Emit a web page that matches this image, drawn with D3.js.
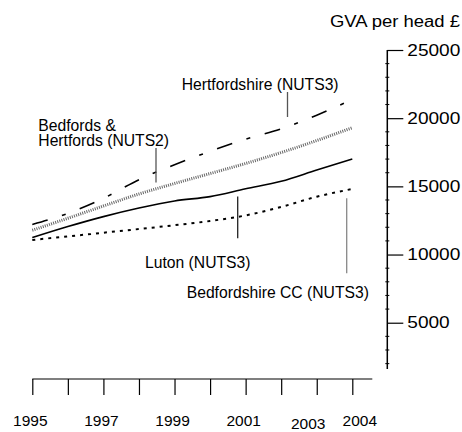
<!DOCTYPE html>
<html>
<head>
<meta charset="utf-8">
<script src="https://cdn.jsdelivr.net/npm/d3@7/dist/d3.min.js"></script>
<style>
  body { margin: 0; background: #fff; }
  text { font-family: "Liberation Sans", Arial, sans-serif; fill: #000; }
</style>
</head>
<body>
<div id="chart"></div>
<script>
// GVA per head, Bedfordshire & Hertfordshire
const years = [1995, 1996, 1997, 1998, 1999, 2000, 2001, 2002, 2003, 2004];
const yearLabels = [1995, 1997, 1999, 2001, 2003, 2004];
const hertfordshire = [12200, 13020, 14120, 15490, 16590, 17570, 18460, 19210, 20220, 21370];
const bedsHerts = [11780, 12660, 13560, 14440, 15210, 15940, 16680, 17480, 18360, 19300];
const luton = [11240, 12050, 12780, 13410, 13930, 14250, 14820, 15370, 16200, 17010];
const bedfordshireCC = [11070, 11330, 11600, 11870, 12150, 12460, 12870, 13490, 14240, 14810];
const valueTicks = [5000, 10000, 15000, 20000, 25000];

let width = 462;
let height = 432;

let svg = d3.select('#chart')
  .append('svg')
  .attr('width', width)
  .attr('height', height);

let x = d3.scaleLinear().domain([1995, 2004]).range([32.3, 352.3]);
let y = d3.scaleLinear().domain([0, 25000]).range([390.9, 50]);

// lines
let line = d3.line()
  .x(function (d, i) { return x(years[i]); })
  .y(function (d) { return y(d); })
  .curve(d3.curveMonotoneX);

let series = [
  { values: hertfordshire, color: '#000', w: 1.6, dash: '16,15,4,15' },
  { values: bedsHerts, color: '#666', w: 3, dash: '1,1.2' },
  { values: luton, color: '#000', w: 1.6, dash: null },
  { values: bedfordshireCC, color: '#000', w: 2, dash: '3,5' }
];

series.forEach(function (s) {
  svg.append('path')
    .datum(s.values)
    .attr('d', line)
    .attr('fill', 'none')
    .attr('stroke', s.color)
    .attr('stroke-width', s.w)
    .attr('stroke-dasharray', s.dash);
});

// right value axis
let yAxis = d3.axisRight(y)
  .tickValues(valueTicks)
  .tickSize(16)
  .tickPadding(4)
  .tickFormat(d3.format('d'));

let ya = svg.append('g')
  .attr('transform', 'translate(387.3,0)')
  .call(yAxis);
ya.select('.domain').remove();
ya.selectAll('.tick line').attr('stroke', '#000').attr('stroke-width', 1.2);
ya.selectAll('.tick text')
  .attr('font-size', 16)
  .attr('textLength', function (d) { return String(d).length * 10.6; })
  .attr('lengthAdjust', 'spacingAndGlyphs');

ya.append('line')
  .attr('x1', 0).attr('x2', 0)
  .attr('y1', y(25000)).attr('y2', y(1600))
  .attr('stroke', '#000').attr('stroke-width', 1.5);

ya.selectAll('.minor')
  .data(d3.range(2000, 25000, 1000).filter(function (d) { return d % 5000 !== 0; }))
  .enter()
  .append('line')
  .attr('class', 'minor')
  .attr('x1', -2).attr('x2', 2)
  .attr('y1', function (d) { return y(d); })
  .attr('y2', function (d) { return y(d); })
  .attr('stroke', '#000');

svg.append('text')
  .attr('x', 460)
  .attr('y', 27)
  .attr('text-anchor', 'end')
  .attr('font-size', 16)
  .attr('textLength', 130)
  .attr('lengthAdjust', 'spacingAndGlyphs')
  .text('GVA per head £');

// bottom year axis
let xAxis = d3.axisBottom(x)
  .tickValues(years)
  .tickSize(16)
  .tickFormat('');

let xa = svg.append('g')
  .attr('transform', 'translate(0,379)')
  .call(xAxis);
xa.select('.domain').remove();
xa.selectAll('.tick line').attr('stroke', '#000').attr('stroke-width', 1.2);
xa.append('line')
  .attr('x1', x(1995)).attr('x2', x(2004) + 20)
  .attr('y1', 0).attr('y2', 0)
  .attr('stroke', '#000').attr('stroke-width', 1.2);

let labelShift = { 2003: [-6.5, 2.5], 2004: [9.5, 0] };
svg.selectAll('.yearlab')
  .data(yearLabels)
  .enter()
  .append('text')
  .attr('class', 'yearlab')
  .attr('x', function (d) { return x(d) - 2 + (labelShift[d] ? labelShift[d][0] : 0); })
  .attr('y', function (d) { return 426 + (labelShift[d] ? labelShift[d][1] : 0); })
  .attr('text-anchor', 'middle')
  .attr('font-size', 15.5)
  .text(function (d) { return d; });

// series labels with leader lines
let labels = [
  { lines: ['Hertfordshire (NUTS3)'], x: 181.7, y: 90, lx: 287.5, ly1: 92, ly2: 117, lc: '#555' },
  { lines: ['Bedfords &', 'Hertfords (NUTS2)'], x: 38.3, y: 131, lx: 156, ly1: 148, ly2: 182.5, lc: '#555' },
  { lines: ['Luton (NUTS3)'], x: 145, y: 268.3, lx: 237.7, ly1: 196.5, ly2: 238.3, lc: '#222' },
  { lines: ['Bedfordshire CC (NUTS3)'], x: 186.7, y: 298.3, lx: 346.7, ly1: 198.3, ly2: 273.3, lc: '#888' }
];

labels.forEach(function (l) {
  let t = svg.append('text')
    .attr('x', l.x)
    .attr('y', l.y)
    .attr('font-size', 15.7);
  l.lines.forEach(function (s, i) {
    t.append('tspan')
      .attr('x', l.x)
      .attr('dy', i === 0 ? 0 : 15)
      .text(s);
  });
  svg.append('line')
    .attr('x1', l.lx).attr('x2', l.lx)
    .attr('y1', l.ly1).attr('y2', l.ly2)
    .attr('stroke', l.lc)
    .attr('stroke-width', 1.3);
});
</script>
</body>
</html>
